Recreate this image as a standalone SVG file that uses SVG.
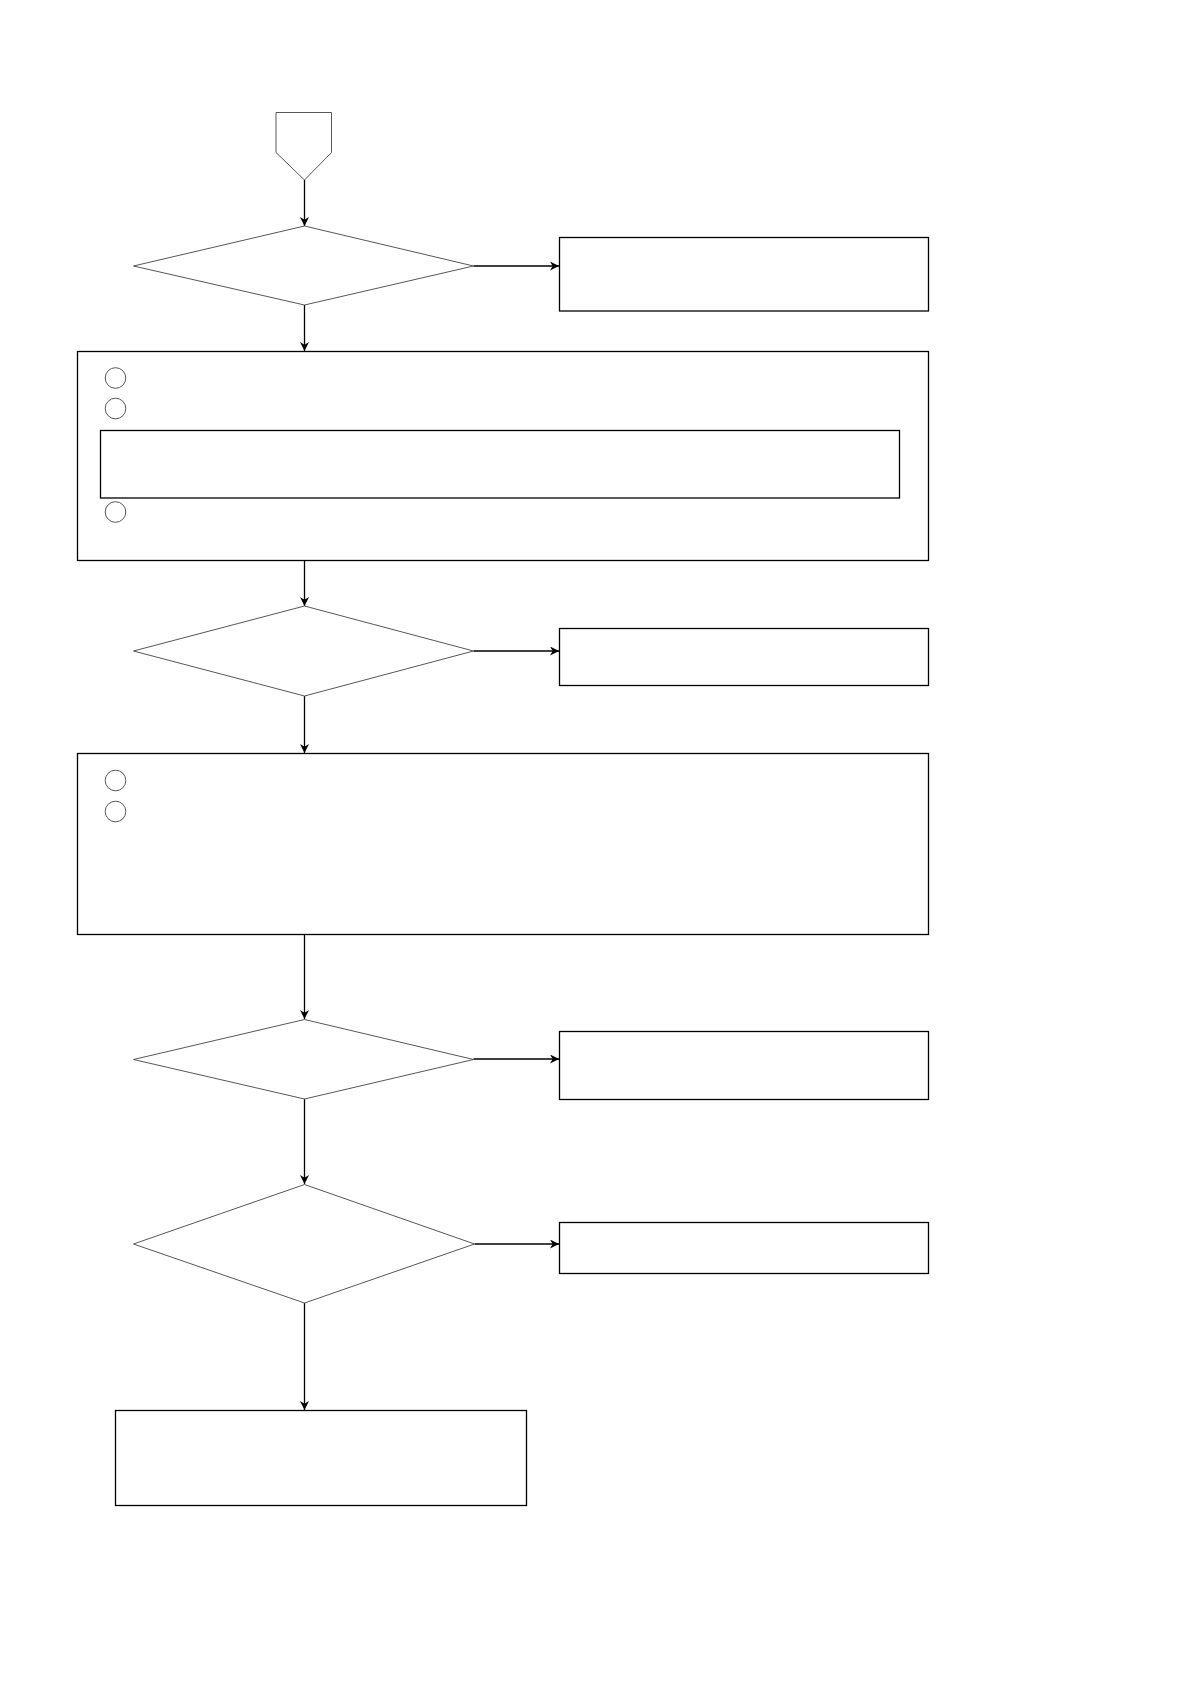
<svg xmlns="http://www.w3.org/2000/svg" width="1190" height="1684" viewBox="0 0 1190 1684">
<style>
.box{fill:#fff;stroke:#000;stroke-width:1.3}
.dia{fill:#fff;stroke:#444;stroke-width:0.9}
.num{fill:none;stroke:#444;stroke-width:0.9}
.conn{fill:none;stroke:#000;stroke-width:1.3;marker-end:url(#ah)}
</style>
<defs>
<marker id="ah" viewBox="0 0 10 10" refX="10" refY="5" markerWidth="9" markerHeight="9" markerUnits="userSpaceOnUse" orient="auto">
<path d="M0,0 L10,5 L0,10 L3,5 Z" fill="#000"/>
</marker>
</defs>
<rect width="1190" height="1684" fill="#fff"/>
<g id="connectors">
<path class="conn" d="M304.5,180 V226"/>
<path class="conn" d="M473.5,266 H559"/>
<path class="conn" d="M304.5,305 V351"/>
<path class="conn" d="M304.5,560 V606"/>
<path class="conn" d="M473.5,651 H559"/>
<path class="conn" d="M304.5,696 V753"/>
<path class="conn" d="M304.5,934 V1019"/>
<path class="conn" d="M473.5,1059 H559"/>
<path class="conn" d="M304.5,1099 V1184"/>
<path class="conn" d="M474.5,1244 H559"/>
<path class="conn" d="M304.5,1303 V1410"/>
</g>
<g id="start"><path class="dia" d="M276,112.5 H331.5 V152.5 L304.5,180 L276,152.5 Z"/></g>
<g id="decision1"><path class="dia" d="M304.5,226 L473.5,266 L304.5,305 L133.5,266 Z"/></g>
<g id="box1"><rect class="box" x="559.5" y="237.5" width="369" height="73.5"/></g>
<g id="step1">
<rect class="box" x="77.5" y="351.5" width="851" height="209"/>
<circle class="num" cx="115.5" cy="378" r="10.3"/>
<circle class="num" cx="115.5" cy="408.5" r="10.3"/>
<rect class="box" x="100.5" y="430.5" width="799" height="67.5"/>
<circle class="num" cx="115.5" cy="512" r="10.3"/>
</g>
<g id="decision2"><path class="dia" d="M304.5,606 L473.5,651 L304.5,696 L133.5,651 Z"/></g>
<g id="box2"><rect class="box" x="559.5" y="628.5" width="369" height="57"/></g>
<g id="step2">
<rect class="box" x="77.5" y="753.5" width="851" height="181"/>
<circle class="num" cx="115.5" cy="780.5" r="10.3"/>
<circle class="num" cx="115.5" cy="811.5" r="10.3"/>
</g>
<g id="decision3"><path class="dia" d="M304.5,1019.5 L473.5,1059.5 L304.5,1099 L133.5,1059.5 Z"/></g>
<g id="box3"><rect class="box" x="559.5" y="1031.5" width="369" height="68"/></g>
<g id="decision4"><path class="dia" d="M304.5,1184.5 L474.5,1244 L304.5,1303 L133.5,1244 Z"/></g>
<g id="box4"><rect class="box" x="559.5" y="1222.5" width="369" height="51"/></g>
<g id="end"><rect class="box" x="115.5" y="1410.5" width="411" height="95"/></g>
</svg>
